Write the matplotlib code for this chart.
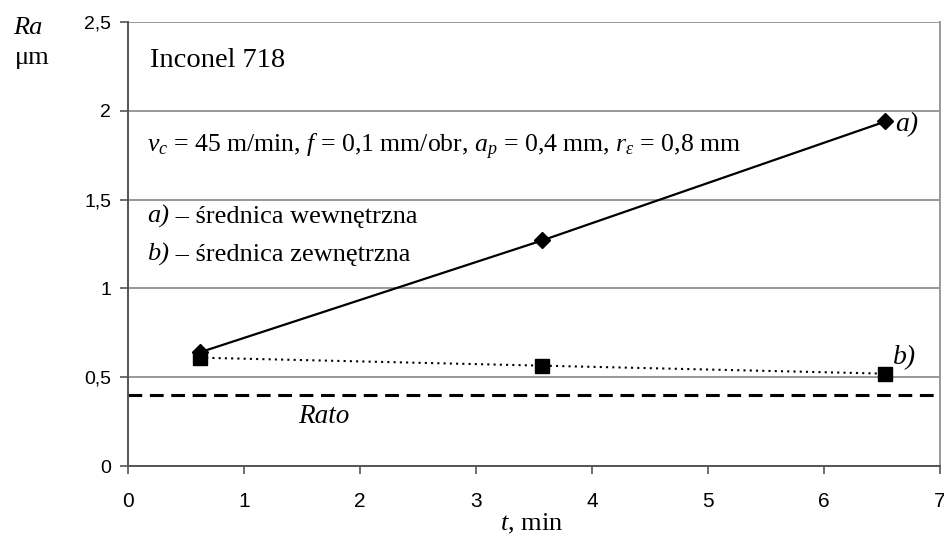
import matplotlib
matplotlib.use("Agg")
import matplotlib.pyplot as plt
from matplotlib import font_manager

# data
t = [0.62, 3.57, 6.53]
ra_a = [0.64, 1.27, 1.94]   # a) srednica wewnetrzna
ra_b = [0.61, 0.565, 0.52]  # b) srednica zewnetrzna
ra_to = 0.4

xticks = [0, 1, 2, 3, 4, 5, 6, 7]
yticks = [0, 0.5, 1, 1.5, 2, 2.5]
ytick_labels = ["0", "0,5", "1", "1,5", "2", "2,5"]

names = {f.name for f in font_manager.fontManager.ttflist}
tick_font = "Liberation Sans Narrow" if "Liberation Sans Narrow" in names else "Liberation Sans"
serif = "Liberation Serif"

plt.rcParams["mathtext.fontset"] = "custom"
plt.rcParams["mathtext.rm"] = serif
plt.rcParams["mathtext.it"] = serif + ":italic"

fig = plt.figure(figsize=(9.45, 5.37), dpi=100)
ax = fig.add_axes([0.1354, 0.1322, 0.8593, 0.8268])

ax.set_xlim(0, 7)
ax.set_ylim(0, 2.5)
ax.set_xticks(xticks)
ax.set_yticks(yticks)
ax.set_xticklabels([str(v) for v in xticks], fontname=tick_font, fontsize=15)
ax.set_yticklabels(ytick_labels, fontname=tick_font, fontsize=14)
ax.tick_params(direction="out", length=6, width=1.2, color="#555555")
ax.tick_params(axis="y", pad=6)
ax.tick_params(axis="x", pad=13)

ax.grid(axis="y", color="#868686", linewidth=1.2)
ax.set_axisbelow(True)
ax.spines["top"].set_visible(False)
ax.spines["left"].set_color("#555555")
ax.spines["bottom"].set_color("#555555")
ax.spines["right"].set_color("#999999")
for s in ax.spines.values():
    s.set_linewidth(1.4)

ax.axhline(ra_to, color="black", linewidth=2.2, linestyle=(0, (4.5, 2.5)))
ax.plot(t, ra_b, color="black", linewidth=1.5, linestyle=(0, (1, 2)), marker="s",
        markersize=9.5, zorder=3)
ax.plot(t, ra_a, color="black", linewidth=1.6, marker="D",
        markersize=8, zorder=4)

fs = 19
ax.text(0.19, 2.286, "Inconel 718", fontname=serif, fontsize=20.5, va="center")
ax.text(0.164, 1.796,
        r"$v_c$ = 45 m/min, $f$ = 0,1 mm/obr, $a_p$ = 0,4 mm, $r_\varepsilon$ = 0,8 mm",
        fontname=serif, fontsize=18.5, va="center")

# legend lines: italic "a)" / "b)" followed by upright description
fig.canvas.draw()
renderer = fig.canvas.get_renderer()
for lab, desc, y in [("a)", " – średnica wewnętrzna", 1.37),
                     ("b)", " – średnica zewnętrzna", 1.156)]:
    t1 = ax.text(0.164, y, lab, fontname=serif, fontstyle="italic",
                 fontsize=fs, va="baseline")
    bb = t1.get_window_extent(renderer)
    x_end = ax.transData.inverted().transform((bb.x1, bb.y0))[0]
    ax.text(x_end, y, desc, fontname=serif, fontsize=fs, va="baseline")

ax.text(6.61, 1.92, "a)", fontname=serif, fontstyle="italic", fontsize=20, va="center")
ax.text(6.595, 0.608, "b)", fontname=serif, fontstyle="italic", fontsize=20, va="center")
ax.text(1.466, 0.276, "Rato", fontname=serif, fontstyle="italic", fontsize=19.5, va="center")

fig.text(0.0138, 0.947, "Ra", fontname=serif, fontstyle="italic", fontsize=19, va="center")
fig.text(0.016, 0.892, "μm", fontname=serif, fontsize=19, va="center")
fig.text(0.562, 0.024, r"$t$, min", fontname=serif, fontsize=19, ha="center", va="center")

fig.savefig("out.png", dpi=100)
